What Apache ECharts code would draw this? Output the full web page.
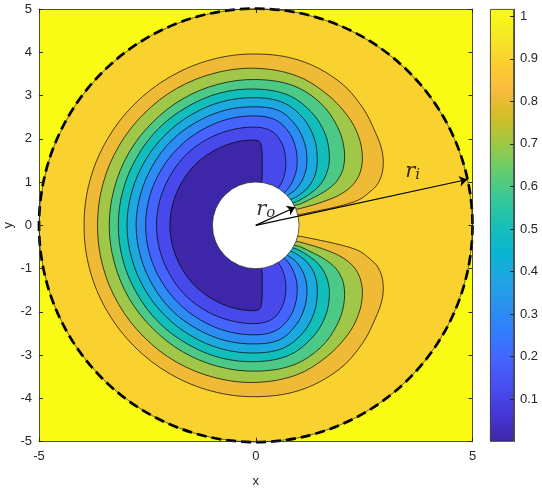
<!DOCTYPE html>
<html>
<head>
<meta charset="utf-8">
<script src="https://cdn.jsdelivr.net/npm/echarts@6.0.0/dist/echarts.min.js"></script>
<style>
  html, body { margin: 0; padding: 0; background: #fff; }
  #main { width: 542px; height: 494px; }
</style>
</head>
<body>
<div id="main"></div>
<script>
// contour levels, outer one first (painting order)
var levels = [0.9, 0.8, 0.7, 0.6, 0.5, 0.4, 0.3, 0.2, 0.1];

// upper half of each contour line [x, y], from the -x axis over the top into the hole
var c09 = [[-3.96,0],[-3.83,1.02],[-3.43,1.98],[-2.8,2.8],[-1.98,3.43],[-1.02,3.83],[0,3.96],[1.02,3.81],[1.92,3.33],[2.46,2.73],[2.76,2.15],[2.92,1.69],[2.93,1.28],[2.82,0.97],[2.64,0.78],[2.38,0.59],[1.95,0.45],[1.46,0.34],[1.07,0.26],[0.86,0.21]];
var c08 = [[-3.65,0],[-3.53,0.94],[-3.16,1.83],[-2.58,2.58],[-1.83,3.16],[-0.94,3.52],[0,3.63],[0.93,3.46],[1.62,3.05],[2.12,2.53],[2.37,2.06],[2.46,1.6],[2.41,1.23],[2.26,0.96],[2.01,0.75],[1.7,0.6],[1.32,0.47],[1.03,0.39],[0.82,0.32]];
var c07 = [[-3.38,0],[-3.26,0.87],[-2.92,1.69],[-2.38,2.38],[-1.69,2.92],[-0.87,3.26],[0,3.37],[0.86,3.23],[1.5,2.82],[1.87,2.31],[2.03,1.83],[2.03,1.37],[1.89,1.05],[1.66,0.83],[1.35,0.65],[1.04,0.5],[0.79,0.39]];
var c06 = [[-3.17,0],[-3.06,0.82],[-2.74,1.58],[-2.24,2.24],[-1.58,2.74],[-0.82,3.06],[0,3.15],[0.75,3.01],[1.28,2.62],[1.6,2.12],[1.7,1.58],[1.63,1.19],[1.46,0.91],[1.21,0.7],[0.97,0.56],[0.76,0.45]];
var c05 = [[-2.97,0],[-2.86,0.77],[-2.56,1.48],[-2.09,2.09],[-1.48,2.56],[-0.77,2.86],[0,2.95],[0.65,2.83],[1.1,2.47],[1.35,2.01],[1.42,1.52],[1.36,1.14],[1.19,0.86],[0.97,0.68],[0.72,0.5]];
var c04 = [[-2.76,0],[-2.66,0.71],[-2.38,1.38],[-1.95,1.95],[-1.38,2.38],[-0.71,2.66],[0,2.74],[0.56,2.64],[0.93,2.3],[1.13,1.89],[1.18,1.45],[1.1,1.1],[0.93,0.84],[0.66,0.58]];
var c03 = [[-2.54,0],[-2.45,0.66],[-2.19,1.27],[-1.79,1.79],[-1.27,2.19],[-0.66,2.45],[0,2.53],[0.47,2.43],[0.78,2.13],[0.93,1.75],[0.95,1.35],[0.86,1.04],[0.74,0.84],[0.59,0.65]];
var c02 = [[-2.29,0],[-2.21,0.59],[-1.98,1.14],[-1.62,1.62],[-1.14,1.98],[-0.59,2.2],[0,2.27],[0.38,2.17],[0.61,1.88],[0.69,1.55],[0.68,1.25],[0.6,0.99],[0.47,0.75]];
var c01 = [[-1.98,0],[-1.91,0.51],[-1.71,0.99],[-1.4,1.4],[-0.99,1.71],[-0.55,1.9],[-0.15,1.97],[0.08,1.94],[0.14,1.75],[0.15,1.45],[0.15,1.15],[0.13,0.87]];

// circles: [cx, cy, r]
var outerCircle = [[0, 0, 5]];
var holeCircle = [[0, 0, 1]];

// arrows from the origin, and their labels
var arrowEnds = [[0.91, 0.42], [4.88, 1.06]];
var arrowLabels = [[0.23, 0.36, 'o'], [3.62, 1.24, 'i']];

var xTicks = { min: -5, max: 5, step: 5 };
var yTicks = { min: -5, max: 5, step: 1 };
var cbarRange = [0, 1.017];

// parula
var parula = ['#3E26A8','#4537D5','#484DF0','#4563FD','#327CFC','#2B91EF','#20A5E3','#08B5D0',
              '#19BFB6','#37C897','#64CD6F','#9DC943','#D1BF27','#F8BA3D','#FCCF30','#F5E924','#F9FB15'];
// fill of region inside each contour (colour of the band just below the level)
var bandFill = ['#EFBA36','#A0C747','#4CC987','#12BEB9','#1CA9E0','#2D8CF3','#4563FD','#4749EB','#3E26A8'];
var topBand = '#FAD22F';
var outside = '#F9FB15';

var contours = [c09, c08, c07, c06, c05, c04, c03, c02, c01].map(function (up) {
  var low = up.slice(1).reverse().map(function (p) { return [p[0], -p[1]]; });
  return up.concat(low);
});

var axisColor = '#262626';
var font = 'Liberation Sans, Arial, sans-serif';

function circleSeries(data, style, z) {
  return {
    type: 'custom', xAxisIndex: 0, yAxisIndex: 0, z: z, silent: true,
    data: data,
    renderItem: function (params, api) {
      var c = api.coord([api.value(0), api.value(1)]);
      var r = api.size([api.value(2), 0])[0];
      return { type: 'circle', shape: { cx: c[0], cy: c[1], r: r }, style: style };
    }
  };
}

var stops = parula.map(function (c, i) { return { offset: i / (parula.length - 1), color: c }; });

var option = {
  animation: false,
  backgroundColor: '#fff',
  textStyle: { fontFamily: font },
  grid: [
    { left: 39, top: 9, width: 433.5, height: 432.7, show: true, backgroundColor: outside, borderWidth: 0, outerBoundsMode: 'none', containLabel: false },
    { left: 490, top: 9, width: 24, height: 432.7, outerBoundsMode: 'none', containLabel: false }
  ],
  xAxis: [
    {
      type: 'value', gridIndex: 0, min: xTicks.min, max: xTicks.max, interval: xTicks.step, z: 10,
      name: 'x', nameLocation: 'middle', nameGap: 33, nameMoveOverlap: false,
      nameTextStyle: { color: axisColor, fontSize: 13 },
      axisLine: { onZero: false, lineStyle: { color: axisColor, width: 0.8 } },
      axisTick: { inside: true, length: 4, lineStyle: { color: axisColor } },
      axisLabel: { color: axisColor, fontSize: 13, margin: 8 },
      splitLine: { show: false }
    },
    {
      type: 'value', gridIndex: 0, position: 'top', min: xTicks.min, max: xTicks.max, interval: xTicks.step, z: 10,
      axisLine: { onZero: false, lineStyle: { color: axisColor, width: 0.8 } },
      axisTick: { inside: true, length: 4, lineStyle: { color: axisColor } },
      axisLabel: { show: false }, splitLine: { show: false }
    },
    { type: 'category', gridIndex: 1, data: ['c'], show: false }
  ],
  yAxis: [
    {
      type: 'value', gridIndex: 0, min: yTicks.min, max: yTicks.max, interval: yTicks.step, z: 10,
      name: 'y', nameLocation: 'middle', nameGap: 24, nameRotate: 90, nameMoveOverlap: false,
      nameTextStyle: { color: axisColor, fontSize: 13 },
      axisLine: { onZero: false, lineStyle: { color: axisColor, width: 0.8 } },
      axisTick: { inside: true, length: 4, lineStyle: { color: axisColor } },
      axisLabel: { color: axisColor, fontSize: 13, margin: 7 },
      splitLine: { show: false }
    },
    {
      type: 'value', gridIndex: 0, position: 'right', min: yTicks.min, max: yTicks.max, interval: yTicks.step, z: 10,
      axisLine: { onZero: false, lineStyle: { color: axisColor, width: 0.8 } },
      axisTick: { inside: true, length: 4, lineStyle: { color: axisColor } },
      axisLabel: { show: false }, splitLine: { show: false }
    },
    {
      type: 'value', gridIndex: 1, position: 'right', min: cbarRange[0], max: cbarRange[1], interval: 0.1, z: 10,
      axisLine: { show: true, lineStyle: { color: axisColor, width: 0.8 } },
      axisTick: { show: true, inside: true, length: 4, lineStyle: { color: axisColor } },
      axisLabel: { color: axisColor, fontSize: 13, margin: 6, showMinLabel: false, showMaxLabel: false },
      splitLine: { show: false }
    }
  ],
  series: [
    // disk of the domain
    circleSeries(outerCircle, { fill: topBand, stroke: null }, 1),
    // filled contours
    {
      type: 'custom', xAxisIndex: 0, yAxisIndex: 0, z: 2, silent: true,
      data: levels.map(function (lv) { return [0, 0, lv]; }),
      renderItem: function (params, api) {
        var i = params.dataIndex;
        var pts = contours[i].map(function (p) { return api.coord(p); });
        return {
          type: 'polygon', z2: i,
          shape: { points: pts, smooth: 0.35 },
          style: { fill: bandFill[i], stroke: '#000', lineWidth: 0.7 }
        };
      }
    },
    // hole
    circleSeries(holeCircle, { fill: '#fff', stroke: '#222', lineWidth: 0.7 }, 3),
    // boundary circle: thin solid + thick dashed
    circleSeries(outerCircle, { fill: null, stroke: '#111', lineWidth: 0.6 }, 4),
    circleSeries(outerCircle, { fill: null, stroke: '#000', lineWidth: 2.7, lineDash: [10, 5] }, 4),
    // arrows
    {
      type: 'lines', coordinateSystem: 'cartesian2d', xAxisIndex: 0, yAxisIndex: 0, z: 5, silent: true,
      symbol: ['none', 'arrow'], symbolSize: 8,
      lineStyle: { color: '#000', width: 1.2, opacity: 1 },
      data: arrowEnds.map(function (e) { return { coords: [[0, 0], e] }; })
    },
    // r_o, r_i
    {
      type: 'scatter', xAxisIndex: 0, yAxisIndex: 0, z: 6, symbolSize: 0, silent: true,
      data: arrowLabels.map(function (a) { return { value: [a[0], a[1]], name: a[2] }; }),
      label: {
        show: true, position: 'inside',
        formatter: function (p) { return '{r|r}{s|' + p.name + '}'; },
        rich: {
          r: { fontFamily: 'DejaVu Serif', fontStyle: 'italic', fontSize: 21, color: '#000', lineHeight: 21, verticalAlign: 'bottom' },
          s: { fontFamily: 'DejaVu Serif', fontStyle: 'italic', fontSize: 15, color: '#000', lineHeight: 10, verticalAlign: 'bottom' }
        }
      }
    },
    // colorbar
    {
      type: 'bar', xAxisIndex: 2, yAxisIndex: 2, barWidth: '100%', silent: true,
      data: [cbarRange[1]],
      itemStyle: { color: new echarts.graphic.LinearGradient(0, 1, 0, 0, stops), borderColor: axisColor, borderWidth: 0.8 }
    }
  ]
};

var chart = echarts.init(document.getElementById('main'));
chart.setOption(option);
</script>
</body>
</html>
